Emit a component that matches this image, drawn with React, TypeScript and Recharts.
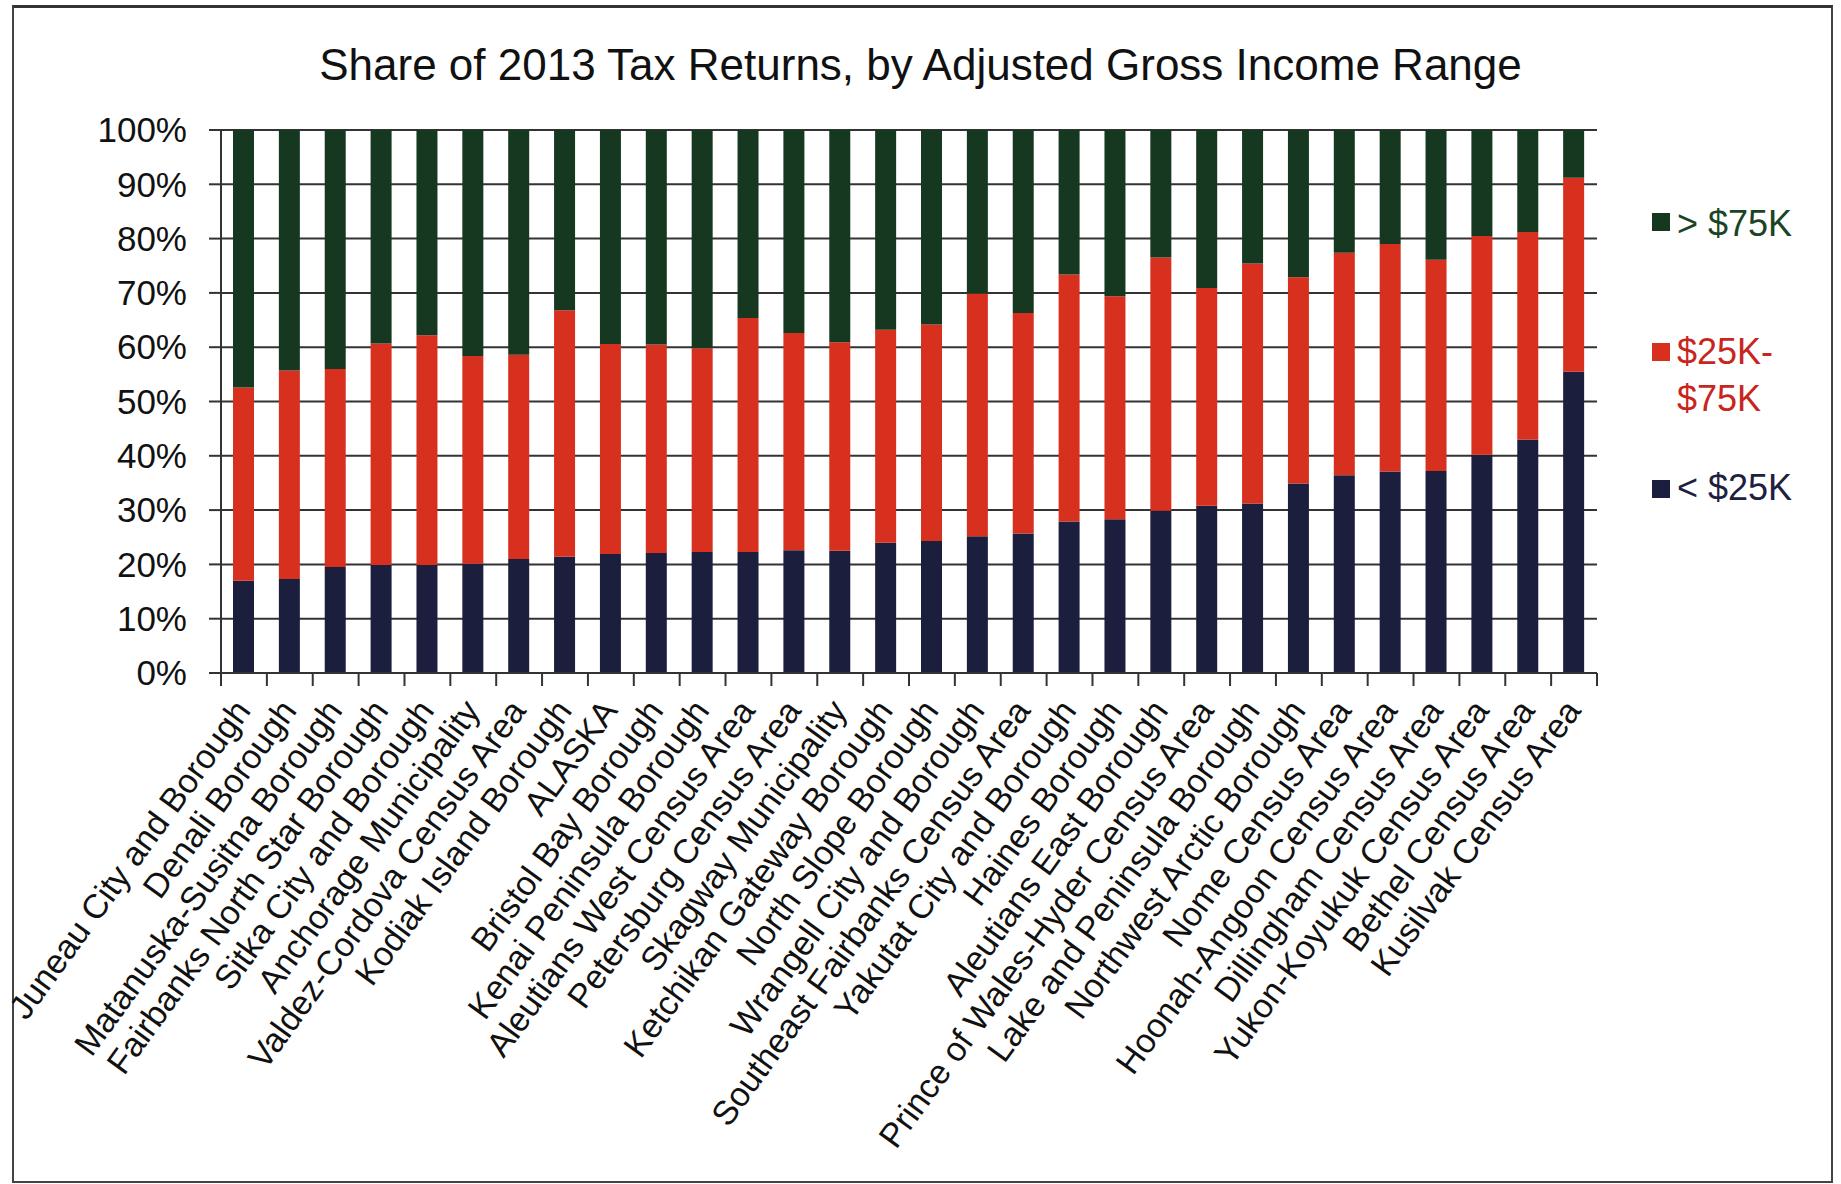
import React from 'react';
import { BarChart, Bar, XAxis, YAxis, CartesianGrid, Legend } from 'recharts';

const categories = [
  'Juneau City and Borough',
  'Denali Borough',
  'Matanuska-Susitna Borough',
  'Fairbanks North Star Borough',
  'Sitka City and Borough',
  'Anchorage Municipality',
  'Valdez-Cordova Census Area',
  'Kodiak Island Borough',
  'ALASKA',
  'Bristol Bay Borough',
  'Kenai Peninsula Borough',
  'Aleutians West Census Area',
  'Petersburg Census Area',
  'Skagway Municipality',
  'Ketchikan Gateway Borough',
  'North Slope Borough',
  'Wrangell City and Borough',
  'Southeast Fairbanks Census Area',
  'Yakutat City and Borough',
  'Haines Borough',
  'Aleutians East Borough',
  'Prince of Wales-Hyder Census Area',
  'Lake and Peninsula Borough',
  'Northwest Arctic Borough',
  'Nome Census Area',
  'Hoonah-Angoon Census Area',
  'Dillingham Census Area',
  'Yukon-Koyukuk Census Area',
  'Bethel Census Area',
  'Kusilvak Census Area',
];

const under25 = [
  17.0, 17.3, 19.5, 19.9, 19.9, 20.1, 21.0, 21.4, 21.9, 22.1,
  22.3, 22.3, 22.6, 22.5, 24.0, 24.3, 25.2, 25.7, 27.9, 28.3,
  29.9, 30.8, 31.2, 34.9, 36.4, 37.1, 37.2, 40.2, 43.0, 55.5,
];

const mid25to75 = [
  35.6, 38.4, 36.5, 40.8, 42.3, 38.3, 37.6, 45.4, 38.7, 38.4,
  37.5, 43.1, 40.0, 38.4, 39.2, 39.9, 44.7, 40.6, 45.5, 41.1,
  46.6, 40.1, 44.2, 38.0, 41.0, 41.9, 38.9, 40.3, 38.2, 35.7,
];

const over75 = [
  47.4, 44.3, 44.0, 39.3, 37.8, 41.6, 41.4, 33.2, 39.4, 39.5,
  40.2, 34.6, 37.4, 39.1, 36.8, 35.8, 30.1, 33.7, 26.6, 30.6,
  23.5, 29.1, 24.6, 27.1, 22.6, 21.0, 23.9, 19.5, 18.8, 8.8,
];

const yTicks = [0, 10, 20, 30, 40, 50, 60, 70, 80, 90, 100];

const seriesKeys = ['low', 'mid', 'high'];
const seriesNames = ['< $25K', '$25K-$75K', '> $75K'];
const seriesColors = ['#1b1e3d', '#d8301f', '#163820'];
const legendTextColors = ['#1d2140', '#c8261c', '#1a4424'];
const legendLines = [['< $25K'], ['$25K-', '$75K'], ['> $75K']];

const TITLE = 'Share of 2013 Tax Returns, by Adjusted Gross Income Range';
const FONT = '"Liberation Sans", Arial, Helvetica, sans-serif';

const data = categories.map((name, i) => ({
  name,
  low: under25[i],
  mid: mid25to75[i],
  high: over75[i],
}));

const XTick = (props: any) => {
  const { x, y, payload, index } = props;
  const half = payload && typeof payload.offset === 'number' && payload.offset > 0 ? payload.offset : 22.9;
  const isLast = index === categories.length - 1;
  return (
    <g>
      <line x1={x - half} y1={y} x2={x - half} y2={y + 13} stroke="#333" strokeWidth={2} />
      {isLast && <line x1={x + half} y1={y} x2={x + half} y2={y + 13} stroke="#333" strokeWidth={2} />}
      <text
        transform={`translate(${x + 8},${y + 38}) rotate(-54)`}
        textAnchor="end"
        fontSize={34}
        fill="#111"
        fontFamily={FONT}
      >
        {payload.value}
      </text>
    </g>
  );
};

const YTick = (props: any) => {
  const { x, y, payload } = props;
  return (
    <text x={x} y={y} dy="0.35em" textAnchor="end" fontSize={35} fill="#111" fontFamily={FONT}>
      {`${payload.value}%`}
    </text>
  );
};

const legendOrder = [2, 1, 0];
const legendSquareTops = [13, 143, 280];
const legendTextTops = [3, 128, 267];
const legendLineHeights = [41, 47, 41];

const LegendContent = () => (
  <div style={{ position: 'relative', width: 189, height: 330, fontFamily: FONT }}>
    {legendOrder.map((s, k) => (
      <React.Fragment key={seriesKeys[s]}>
        <div
          style={{
            position: 'absolute',
            left: 0,
            top: legendSquareTops[k],
            width: 18,
            height: 18,
            background: seriesColors[s],
          }}
        />
        <div
          style={{
            position: 'absolute',
            left: 25,
            top: legendTextTops[k],
            fontSize: 36,
            lineHeight: `${legendLineHeights[k]}px`,
            color: legendTextColors[s],
            whiteSpace: 'nowrap',
          }}
        >
          {legendLines[s].map((t) => (
            <div key={t}>{t}</div>
          ))}
        </div>
      </React.Fragment>
    ))}
  </div>
);

export default function App() {
  return (
    <div
      style={{
        position: 'absolute',
        left: 0,
        top: 0,
        width: 1841,
        height: 1184,
        background: '#fff',
        overflow: 'hidden',
        fontFamily: FONT,
      }}
    >
      <div
        style={{
          position: 'absolute',
          left: 12,
          top: 5,
          width: 1821,
          height: 1178,
          border: '2.5px solid #444',
          borderTop: '3.5px solid #333',
          boxSizing: 'border-box',
        }}
      />
      <div
        style={{
          position: 'absolute',
          left: 0,
          top: 41,
          width: 1841,
          textAlign: 'center',
          fontSize: 44,
          lineHeight: '48px',
          color: '#111',
          whiteSpace: 'nowrap',
        }}
      >
        {TITLE}
      </div>
      <div style={{ position: 'absolute', left: 0, top: 0 }}>
        <BarChart
          width={1841}
          height={1184}
          data={data}
          margin={{ top: 130, right: 244, bottom: 0, left: 0 }}
          barSize={21}
        >
          <CartesianGrid vertical={false} stroke="#333" strokeWidth={2} />
          <XAxis
            dataKey="name"
            interval={0}
            height={511}
            tickSize={0}
            tickMargin={0}
            tickLine={false}
            axisLine={{ stroke: '#333', strokeWidth: 2 }}
            tick={<XTick />}
          />
          <YAxis
            type="number"
            domain={[0, 100]}
            ticks={yTicks}
            width={221}
            tickSize={12}
            tickMargin={22}
            axisLine={{ stroke: '#333', strokeWidth: 2 }}
            tickLine={{ stroke: '#333', strokeWidth: 2 }}
            tick={<YTick />}
            allowDataOverflow
          />
          <Legend
            layout="vertical"
            align="center"
            verticalAlign="middle"
            wrapperStyle={{ position: 'absolute', left: 1652, top: 200, width: 189, height: 330 }}
            content={<LegendContent />}
          />
          {seriesKeys.map((k, i) => (
            <Bar
              key={k}
              dataKey={k}
              name={seriesNames[i]}
              stackId="a"
              fill={seriesColors[i]}
              isAnimationActive={false}
            />
          ))}
        </BarChart>
      </div>
    </div>
  );
}
